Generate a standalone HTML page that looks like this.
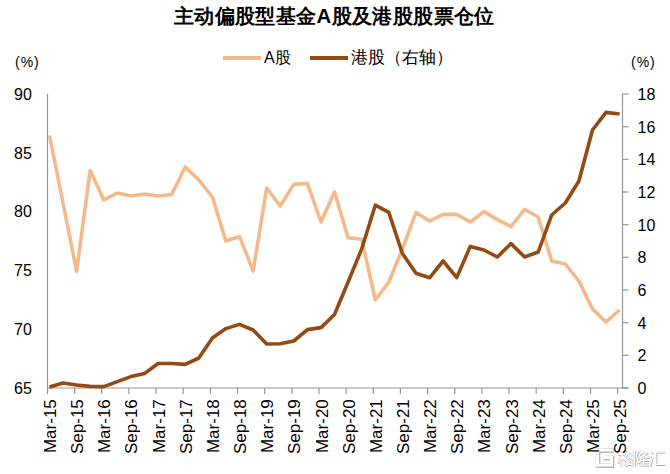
<!DOCTYPE html>
<html><head><meta charset="utf-8"><style>
html,body{margin:0;padding:0;background:#fff;}
body{width:670px;height:474px;position:relative;overflow:hidden;font-family:"Liberation Sans",sans-serif;color:#000;}
.a{position:absolute;white-space:nowrap;}
#title{left:174px;top:1.6px;font-size:20.4px;letter-spacing:0.37px;font-weight:bold;}
.lg{position:absolute;height:3.6px;}
.pct{font-size:14px;top:54.4px;letter-spacing:1px;}
svg{position:absolute;left:0;top:0;}
svg text{font-family:"Liberation Sans",sans-serif;fill:#000;}
#wm{left:617.5px;top:446.5px;font-size:17px;letter-spacing:-1.7px;color:#fff;text-shadow:0.8px 0.8px 0.3px #aaa,-0.5px -0.5px 0.3px #ccc;}
</style></head><body>
<div class="a" id="title">主动偏股型基金A股及港股股票仓位</div>
<div class="lg" style="left:223px;top:56.2px;width:38px;background:#F4B98B"></div>
<div class="a" style="left:264px;top:48px;font-size:16px">A股</div>
<div class="lg" style="left:310px;top:56.3px;width:38px;background:#934A13"></div>
<div class="a" style="left:351px;top:46px;font-size:17px">港股（右轴）</div>
<div class="a pct" style="left:15px">(%)</div>
<div class="a pct" style="left:631px">(%)</div>
<svg width="670" height="474" style="position:absolute;left:0;top:0">
<path d="M613 450H597.5V465H611.5V457.5H603" fill="none" stroke="#b8b8b8" stroke-width="4.6" transform="translate(0.6,0.6)"/>
<path d="M613 450H597.5V465H611.5V457.5H603" fill="none" stroke="#fff" stroke-width="3"/>
</svg>
<div class="a" id="wm">格隆汇</div>
<svg width="670" height="474" viewBox="0 0 670 474">
<path d="M47.5 94V388H628.5M622.5 94V388" stroke="#959595" stroke-width="1.2" fill="none"/>
<path d="M622.5 388.0H628.5" stroke="#959595" stroke-width="1.2"/>
<path d="M622.5 355.3H628.5" stroke="#959595" stroke-width="1.2"/>
<path d="M622.5 322.7H628.5" stroke="#959595" stroke-width="1.2"/>
<path d="M622.5 290.0H628.5" stroke="#959595" stroke-width="1.2"/>
<path d="M622.5 257.3H628.5" stroke="#959595" stroke-width="1.2"/>
<path d="M622.5 224.7H628.5" stroke="#959595" stroke-width="1.2"/>
<path d="M622.5 192.0H628.5" stroke="#959595" stroke-width="1.2"/>
<path d="M622.5 159.3H628.5" stroke="#959595" stroke-width="1.2"/>
<path d="M622.5 126.7H628.5" stroke="#959595" stroke-width="1.2"/>
<path d="M622.5 94.0H628.5" stroke="#959595" stroke-width="1.2"/>
<path d="M47.5 388V394" stroke="#959595" stroke-width="1.2"/>
<path d="M74.7 388V394" stroke="#959595" stroke-width="1.2"/>
<path d="M101.8 388V394" stroke="#959595" stroke-width="1.2"/>
<path d="M128.9 388V394" stroke="#959595" stroke-width="1.2"/>
<path d="M156.1 388V394" stroke="#959595" stroke-width="1.2"/>
<path d="M183.2 388V394" stroke="#959595" stroke-width="1.2"/>
<path d="M210.4 388V394" stroke="#959595" stroke-width="1.2"/>
<path d="M237.5 388V394" stroke="#959595" stroke-width="1.2"/>
<path d="M264.7 388V394" stroke="#959595" stroke-width="1.2"/>
<path d="M291.9 388V394" stroke="#959595" stroke-width="1.2"/>
<path d="M319.0 388V394" stroke="#959595" stroke-width="1.2"/>
<path d="M346.1 388V394" stroke="#959595" stroke-width="1.2"/>
<path d="M373.3 388V394" stroke="#959595" stroke-width="1.2"/>
<path d="M400.4 388V394" stroke="#959595" stroke-width="1.2"/>
<path d="M427.6 388V394" stroke="#959595" stroke-width="1.2"/>
<path d="M454.8 388V394" stroke="#959595" stroke-width="1.2"/>
<path d="M481.9 388V394" stroke="#959595" stroke-width="1.2"/>
<path d="M509.0 388V394" stroke="#959595" stroke-width="1.2"/>
<path d="M536.2 388V394" stroke="#959595" stroke-width="1.2"/>
<path d="M563.4 388V394" stroke="#959595" stroke-width="1.2"/>
<path d="M590.5 388V394" stroke="#959595" stroke-width="1.2"/>
<path d="M617.6 388V394" stroke="#959595" stroke-width="1.2"/>
<polyline points="49.5,135.5 63.0,203 76.6,271.3 90.2,170.5 103.8,200 117.3,193 130.9,196 144.5,194 158.1,196 171.6,194.5 185.2,167 198.8,180 212.4,197 225.9,241 239.5,236.5 253.1,271 266.7,188 280.2,206 293.8,184.4 307.4,183.5 321.0,222 334.5,192 348.1,237.8 361.7,239.2 375.3,300 388.8,282.2 402.4,249 416.0,212.4 429.6,221 443.1,214.4 456.7,214.4 470.3,222 483.9,211.6 497.4,219.6 511.0,226.6 524.6,209.4 538.2,217 551.7,261 565.3,264 578.9,281 592.5,309 606.0,322 619.6,310" fill="none" stroke="#F4B98B" stroke-width="3.6" stroke-linejoin="round" stroke-linecap="butt"/>
<polyline points="49.5,387 63.0,383 76.6,385 90.2,386.4 103.8,386.6 117.3,381.6 130.9,376.6 144.5,373.6 158.1,363.5 171.6,363.5 185.2,364.4 198.8,358 212.4,338 225.9,328.6 239.5,324.4 253.1,330 266.7,344 280.2,343.8 293.8,341 307.4,329.6 321.0,327.6 334.5,314.5 348.1,282 361.7,249 375.3,205.2 388.8,212.4 402.4,253.5 416.0,273.3 429.6,277.8 443.1,261 456.7,277.6 470.3,246.4 483.9,250 497.4,257 511.0,243.6 524.6,257 538.2,252 551.7,215 565.3,203 578.9,181 592.5,130 606.0,112.4 619.6,114" fill="none" stroke="#934A13" stroke-width="3.6" stroke-linejoin="round" stroke-linecap="butt"/>
<text x="31.8" y="393.8" text-anchor="end" font-size="16">65</text>
<text x="31.8" y="335.0" text-anchor="end" font-size="16">70</text>
<text x="31.8" y="276.2" text-anchor="end" font-size="16">75</text>
<text x="31.8" y="217.4" text-anchor="end" font-size="16">80</text>
<text x="31.8" y="158.6" text-anchor="end" font-size="16">85</text>
<text x="31.8" y="99.8" text-anchor="end" font-size="16">90</text>
<text x="637.5" y="393.8" font-size="16">0</text>
<text x="637.5" y="361.1" font-size="16">2</text>
<text x="637.5" y="328.5" font-size="16">4</text>
<text x="637.5" y="295.8" font-size="16">6</text>
<text x="637.5" y="263.1" font-size="16">8</text>
<text x="637.5" y="230.5" font-size="16">10</text>
<text x="637.5" y="197.8" font-size="16">12</text>
<text x="637.5" y="165.1" font-size="16">14</text>
<text x="637.5" y="132.5" font-size="16">16</text>
<text x="637.5" y="99.8" font-size="16">18</text>
<text transform="translate(56.0,399.2) rotate(-90)" text-anchor="end" font-size="17">Mar-15</text>
<text transform="translate(83.2,399.2) rotate(-90)" text-anchor="end" font-size="17">Sep-15</text>
<text transform="translate(110.3,399.2) rotate(-90)" text-anchor="end" font-size="17">Mar-16</text>
<text transform="translate(137.4,399.2) rotate(-90)" text-anchor="end" font-size="17">Sep-16</text>
<text transform="translate(164.6,399.2) rotate(-90)" text-anchor="end" font-size="17">Mar-17</text>
<text transform="translate(191.8,399.2) rotate(-90)" text-anchor="end" font-size="17">Sep-17</text>
<text transform="translate(218.9,399.2) rotate(-90)" text-anchor="end" font-size="17">Mar-18</text>
<text transform="translate(246.0,399.2) rotate(-90)" text-anchor="end" font-size="17">Sep-18</text>
<text transform="translate(273.2,399.2) rotate(-90)" text-anchor="end" font-size="17">Mar-19</text>
<text transform="translate(300.4,399.2) rotate(-90)" text-anchor="end" font-size="17">Sep-19</text>
<text transform="translate(327.5,399.2) rotate(-90)" text-anchor="end" font-size="17">Mar-20</text>
<text transform="translate(354.6,399.2) rotate(-90)" text-anchor="end" font-size="17">Sep-20</text>
<text transform="translate(381.8,399.2) rotate(-90)" text-anchor="end" font-size="17">Mar-21</text>
<text transform="translate(408.9,399.2) rotate(-90)" text-anchor="end" font-size="17">Sep-21</text>
<text transform="translate(436.1,399.2) rotate(-90)" text-anchor="end" font-size="17">Mar-22</text>
<text transform="translate(463.2,399.2) rotate(-90)" text-anchor="end" font-size="17">Sep-22</text>
<text transform="translate(490.4,399.2) rotate(-90)" text-anchor="end" font-size="17">Mar-23</text>
<text transform="translate(517.5,399.2) rotate(-90)" text-anchor="end" font-size="17">Sep-23</text>
<text transform="translate(544.7,399.2) rotate(-90)" text-anchor="end" font-size="17">Mar-24</text>
<text transform="translate(571.9,399.2) rotate(-90)" text-anchor="end" font-size="17">Sep-24</text>
<text transform="translate(599.0,399.2) rotate(-90)" text-anchor="end" font-size="17">Mar-25</text>
<text transform="translate(626.1,399.2) rotate(-90)" text-anchor="end" font-size="17">Sep-25</text>
</svg>

</body></html>
